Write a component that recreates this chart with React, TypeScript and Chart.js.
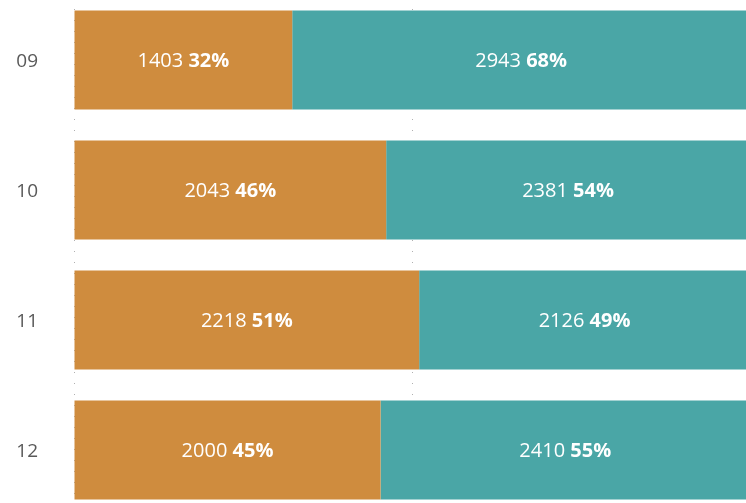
import React, { useEffect, useRef } from "react";
import { Chart, registerables } from "chart.js";

Chart.register(...registerables);

const categories = ["09", "10", "11", "12"];
const seriesA = [1403, 2043, 2218, 2000];
const seriesB = [2943, 2381, 2126, 2410];
const colorA = "#CF8C3E";
const colorB = "#4AA6A6";

const totals = categories.map((_, i) => seriesA[i] + seriesB[i]);
const pctA = seriesA.map((v, i) => (v / totals[i]) * 100);
const pctB = seriesB.map((v, i) => (v / totals[i]) * 100);

const labelPlugin = {
  id: "segLabels",
  afterDatasetsDraw(chart: any) {
    const ctx = chart.ctx;
    const raw = [seriesA, seriesB];
    const pct = [pctA, pctB];
    chart.data.datasets.forEach((_: any, di: number) => {
      const meta = chart.getDatasetMeta(di);
      meta.data.forEach((bar: any, i: number) => {
        const cx = (bar.x + bar.base) / 2;
        const cy = bar.y + 1;
        const t1 = raw[di][i] + " ";
        const t2 = Math.round(pct[di][i]) + "%";
        ctx.save();
        ctx.fillStyle = "#ffffff";
        ctx.textBaseline = "middle";
        ctx.textAlign = "left";
        ctx.font = "20px 'Open Sans'";
        const w1 = ctx.measureText(t1).width;
        ctx.font = "bold 20px 'Open Sans'";
        const w2 = ctx.measureText(t2).width;
        const x0 = cx - (w1 + w2) / 2;
        ctx.font = "20px 'Open Sans'";
        ctx.fillText(t1, x0, cy);
        ctx.font = "bold 20px 'Open Sans'";
        ctx.fillText(t2, x0 + w1, cy);
        ctx.restore();
      });
    });
  },
};

export default function App() {
  const ref = useRef<HTMLCanvasElement>(null);
  useEffect(() => {
    if (!ref.current) return;
    const chart = new Chart(ref.current, {
      type: "bar",
      data: {
        labels: categories,
        datasets: [
          { label: "A", data: pctA, backgroundColor: colorA, borderWidth: 0 },
          { label: "B", data: pctB, backgroundColor: colorB, borderWidth: 0 },
        ],
      },
      options: {
        indexAxis: "y",
        responsive: true,
        maintainAspectRatio: false,
        animation: false,
        layout: { padding: 0, autoPadding: false },
        plugins: { legend: { display: false }, tooltip: { enabled: false } },
        datasets: { bar: { categoryPercentage: 1, barPercentage: 0.762 } },
        scales: {
          x: {
            stacked: true,
            min: 0,
            max: 100,
            ticks: { display: false, stepSize: 50 },
            grid: { color: "#b0b0b0", drawTicks: false, lineWidth: 1 },
            border: { display: false, dash: [1, 10], dashOffset: -3 },
            afterFit: (s: any) => {
              s.height = 0;
            },
          },
          y: {
            stacked: true,
            afterFit: (s: any) => {
              s.width = 74;
              s.paddingTop = 0;
              s.paddingBottom = 0;
            },
            ticks: {
              color: "#595959",
              font: { family: "'Open Sans'", size: 19 },
              padding: 36,
              labelOffset: 2,
            },
            grid: { display: false, drawTicks: false },
            border: { display: false },
          },
        },
      },
      plugins: [labelPlugin],
    });
    return () => chart.destroy();
  }, []);
  return (
    <div style={{ position: "fixed", left: 0, top: -5, width: 750, height: 520 }}>
      <canvas ref={ref} />
    </div>
  );
}
